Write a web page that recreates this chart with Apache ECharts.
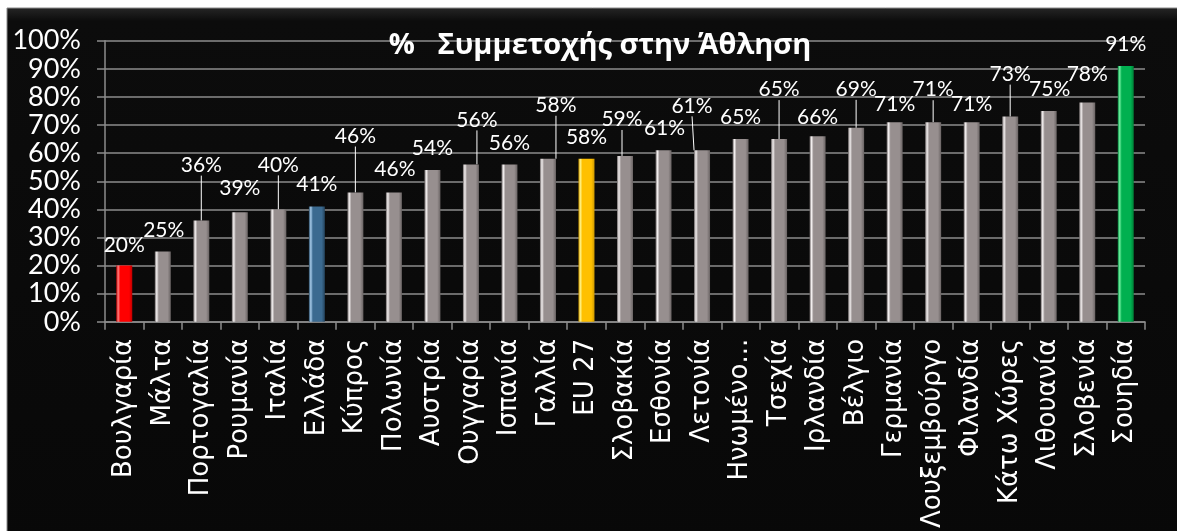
<!DOCTYPE html>
<html>
<head>
<meta charset="utf-8">
<script src="https://cdn.jsdelivr.net/npm/echarts@6/dist/echarts.min.js"></script>
<style>
html,body{margin:0;padding:0;background:#ffffff;}
#c{width:1177px;height:531px;}
</style>
</head>
<body>
<div id="c"></div>
<script>
const titleText = '%   Συμμετοχής στην Άθληση';
const categories = ['Βουλγαρία','Μάλτα','Πορτογαλία','Ρουμανία','Ιταλία','Ελλάδα','Κύπρος','Πολωνία','Αυστρία','Ουγγαρία','Ισπανία','Γαλλία','EU 27','Σλοβακία','Εσθονία','Λετονία','Ηνωμένο...','Τσεχία','Ιρλανδία','Βέλγιο','Γερμανία','Λουξεμβούργο','Φιλανδία','Κάτω Χώρες','Λιθουανία','Σλοβενία','Σουηδία'];
const values = [20,25,36,39,40,41,46,46,54,56,56,58,58,59,61,61,65,65,66,69,71,71,71,73,75,78,91];
const yTicks = [0,10,20,30,40,50,60,70,80,90,100];

// label placement offsets (px) mimicking the original's best-fit labels with leader lines
const labelDx = [0,1,0,0,0,0,0,1,0,6,0,8,0,-3,1,-10,0,0,0,0,0,0,0,0,1,0,0];
const labelDy = [1,0,-34,-2,-23,-1,-35,-2,0,-23,0,-32,0,-15,-1,-23,0,-28,2,-17,4,-11,4,-21,0,-7,0];

const chart = echarts.init(document.getElementById('c'), null, {renderer:'canvas'});

function bevel(base, light, dark){
  return new echarts.graphic.LinearGradient(0,0,1,0,[
    {offset:0, color:dark},
    {offset:0.12, color:light},
    {offset:0.25, color:base},
    {offset:0.8, color:base},
    {offset:1, color:dark}
  ]);
}
const gray = bevel('#978f8f','#f4f0f0','#6a6464');
const special = {
  'Βουλγαρία': bevel('#ff0000','#ff8080','#c00000'),
  'Ελλάδα': bevel('#3b6a90','#a8cdec','#24445e'),
  'EU 27': bevel('#ffc000','#fff080','#d09a00'),
  'Σουηδία': bevel('#00b050','#70f0a0','#008038')
};

const data = values.map((v,i)=>({
  value: v,
  itemStyle: {color: special[categories[i]] || gray},
  labelLine: {show: labelDy[i] < -8}
}));

chart.setOption({
  backgroundColor: 'transparent',
  animation: false,
  graphic: [
    {type:'rect', shape:{x:7,y:8,width:1180,height:540}, style:{
      fill: new echarts.graphic.LinearGradient(0,0,0,1,[
        {offset:0,color:'#262626'},{offset:0.025,color:'#0c0c0c'},{offset:1,color:'#080808'}]),
      stroke:'#8a8a8a', lineWidth:1}, z:-10, silent:true}
  ],
  title: {
    text: titleText,
    left: 595, top: 26, textAlign: 'center',
    textStyle: {color:'#ffffff', fontFamily:'Open Sans', fontWeight:'bold', fontSize:29}
  },
  grid: {left:105, right:32, top:40.7, bottom:208.3, containLabel:false},
  xAxis: {
    type:'category', data: categories,
    axisLine:{show:true, lineStyle:{color:'#8c8c8c', width:1.5}},
    axisTick:{show:true, length:8, lineStyle:{color:'#8c8c8c', width:1.5}},
    axisLabel:{interval:0, rotate:90, margin:17, color:'#ffffff', fontFamily:'DejaVu Sans', fontSize:26}
  },
  yAxis: {
    type:'value', min:0, max:100, interval:10,
    axisLine:{show:true, lineStyle:{color:'#8c8c8c', width:1.5}},
    axisTick:{show:true, length:8, lineStyle:{color:'#8c8c8c', width:1.5}},
    splitLine:{show:true, lineStyle:{color:'#8c8c8c', width:1.5}},
    axisLabel:{margin:24, color:'#ffffff', fontFamily:'Lato', fontSize:27,
      formatter: v => yTicks.includes(v) ? v + '%' : ''}
  },
  series: [{
    type:'bar', data: data, barWidth:16,
    label:{show:true, position:'top', distance:11, color:'#ffffff', fontFamily:'Lato', fontSize:21,
      formatter: p => p.value + '%'},
    labelLine:{show:false, lineStyle:{color:'#ffffff', width:1}},
    labelLayout: p => ({dx: labelDx[p.dataIndex], dy: labelDy[p.dataIndex]})
  }]
});
</script>
</body>
</html>
